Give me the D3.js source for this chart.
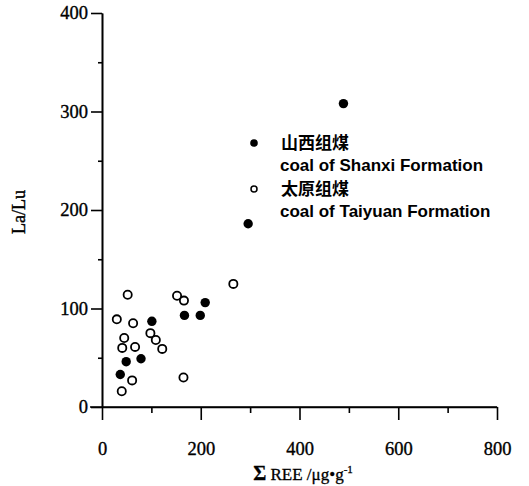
<!DOCTYPE html>
<html>
<head>
<meta charset="utf-8">
<script src="https://cdn.jsdelivr.net/npm/d3@7/dist/d3.min.js"></script>
<style>
  html, body { margin: 0; padding: 0; background: #fff; }
  svg { display: block; }
  .tick text { font-family: "Liberation Serif", "Times New Roman", serif; font-size: 18.5px; fill: #000; stroke: #000; stroke-width: 0.35; }
  .domain, .tick line { stroke: #000; stroke-width: 1.6; }
</style>
</head>
<body>
<svg id="chart" width="529" height="486"></svg>
<script>
// Σ REE (μg/g) and La/Lu for coal of the Shanxi Formation (filled dots)
const shanxiREE  = [37, 49, 79, 101, 167, 199, 209, 296, 489];
const shanxiLaLu = [33, 46, 49, 87, 93, 93, 106, 186, 308];

// Σ REE (μg/g) and La/Lu for coal of the Taiyuan Formation (open circles)
const taiyuanREE  = [40, 61, 30, 41, 45, 52, 63, 67, 98, 109, 122, 152, 165, 166, 266];
const taiyuanLaLu = [16, 27, 89, 60, 70, 114, 85, 61, 75, 68, 59, 113, 30, 108, 125];

// axis ticks
const xMajorTicks = [0, 200, 400, 600, 800];
const xMinorTicks = [100, 300, 500, 700];
const yMajorTicks = [0, 100, 200, 300, 400];
const yMinorTicks = [50, 150, 250, 350];

// legend entries
const legendNames = ["山西组煤", "太原组煤"];
const legendNamesEn = ["coal of Shanxi Formation", "coal of Taiyuan Formation"];

const svg = d3.select("#chart");

const x = d3.scaleLinear().domain([0, 800]).range([102, 497]);
const y = d3.scaleLinear().domain([0, 400]).range([407, 13]);

// x axis: minor ticks, then major ticks with labels
svg.append("g")
  .attr("transform", `translate(0,${y(0)})`)
  .call(d3.axisBottom(x).tickValues(xMinorTicks).tickSize(6).tickSizeOuter(0).tickFormat(""));
const gx = svg.append("g")
  .attr("transform", `translate(0,${y(0)})`)
  .call(d3.axisBottom(x).tickValues(xMajorTicks).tickSize(13).tickSizeOuter(0).tickPadding(22).tickFormat(d3.format("d")));
gx.select(".domain").attr("d", `M${x(0) - 12},0H${x(800)}`);

// y axis: minor ticks, then major ticks with labels
svg.append("g")
  .attr("transform", `translate(${x(0)},0)`)
  .call(d3.axisLeft(y).tickValues(yMinorTicks).tickSize(4).tickSizeOuter(0).tickFormat(""));
svg.append("g")
  .attr("transform", `translate(${x(0)},0)`)
  .call(d3.axisLeft(y).tickValues(yMajorTicks).tickSize(11).tickSizeOuter(0).tickPadding(3).tickFormat(d3.format("d")));

// axis titles
svg.append("text")
  .attr("transform", `translate(25,${(y(0) + y(400)) / 2 + 2}) rotate(-90)`)
  .attr("text-anchor", "middle")
  .style("font-family", "'Liberation Serif', 'Times New Roman', serif")
  .style("font-size", "18px")
  .style("stroke", "#000")
  .style("stroke-width", 0.4)
  .text("La/Lu");

const xt = svg.append("text")
  .attr("x", 303)
  .attr("y", 480)
  .attr("text-anchor", "middle")
  .style("font-family", "'Liberation Serif', 'Times New Roman', serif")
  .style("font-size", "17px")
  .style("stroke", "#000")
  .style("stroke-width", 0.3);
xt.append("tspan").style("font-weight", "bold").style("font-size", "20px").text("Σ");
xt.append("tspan").text(" REE /μg•g");
xt.append("tspan").attr("dy", -7).style("font-size", "11px").text("-1");

// data points
const shanxi = shanxiREE.map((v, i) => [v, shanxiLaLu[i]]);
const taiyuan = taiyuanREE.map((v, i) => [v, taiyuanLaLu[i]]);

svg.append("g").selectAll("circle")
  .data(taiyuan)
  .join("circle")
  .attr("cx", d => x(d[0]))
  .attr("cy", d => y(d[1]))
  .attr("r", 4.1)
  .attr("fill", "#fff")
  .attr("stroke", "#000")
  .attr("stroke-width", 1.8);

svg.append("g").selectAll("circle")
  .data(shanxi)
  .join("circle")
  .attr("cx", d => x(d[0]))
  .attr("cy", d => y(d[1]))
  .attr("r", 4.7)
  .attr("fill", "#000");

// legend
const legend = svg.append("g")
  .style("font-family", "'Liberation Sans', Arial, 'Noto Sans CJK SC', sans-serif")
  .style("fill", "#000");
const legendY = [143, 189];
legendY.forEach((ly, i) => {
  if (i === 0) {
    legend.append("circle").attr("cx", 254).attr("cy", ly).attr("r", 3.8).attr("fill", "#000");
  } else {
    legend.append("circle").attr("cx", 254).attr("cy", ly).attr("r", 3)
      .attr("fill", "#fff").attr("stroke", "#000").attr("stroke-width", 1.5);
  }
  legend.append("text")
    .attr("x", 281).attr("y", ly + 6)
    .style("font-family", "'Noto Sans CJK SC', sans-serif")
    .style("font-size", "17px")
    .style("font-weight", "bold")
    .text(legendNames[i]);
  legend.append("text")
    .attr("x", 280).attr("y", ly + 28)
    .style("font-size", "17px")
    .style("font-weight", "bold")
    .text(legendNamesEn[i]);
});
</script>
</body>
</html>
